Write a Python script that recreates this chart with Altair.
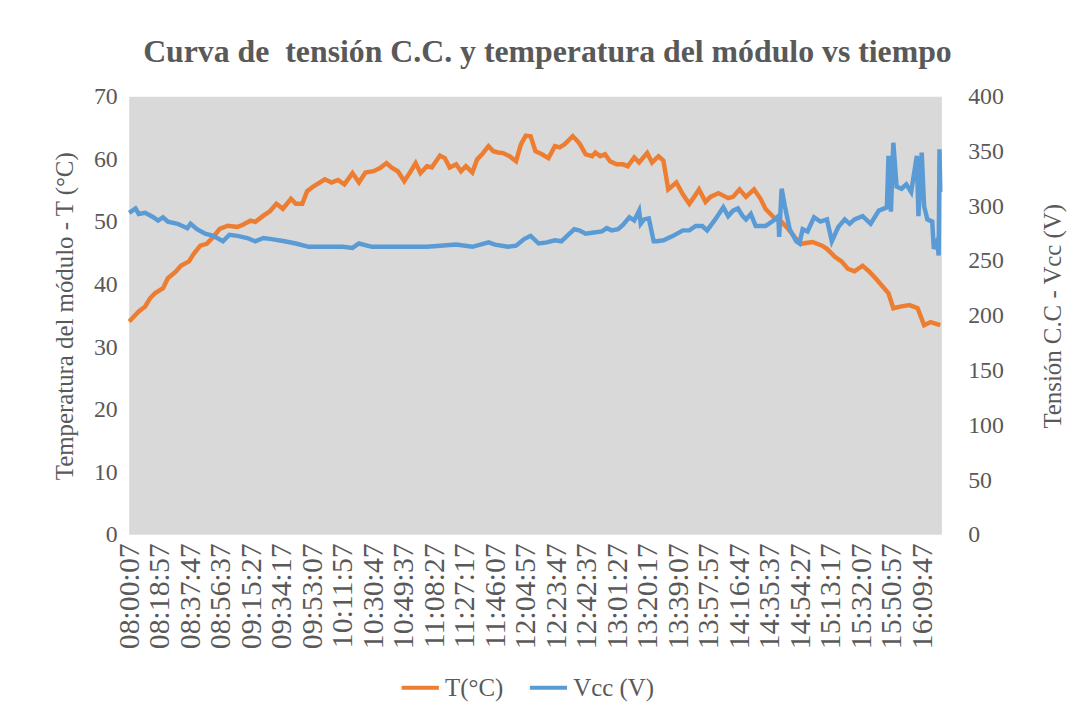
import altair as alt
import pandas as pd

# Temperature series (time, °C)
t_times = ["08:00:07","08:06:00","08:10:00","08:13:00","08:16:00","08:21:00","08:24:00","08:29:00","08:32:00","08:37:00",
           "08:40:00","08:44:00","08:48:00","08:52:00","08:56:00","09:01:00","09:07:00","09:10:00","09:15:00","09:18:00",
           "09:23:00","09:27:00","09:31:00","09:35:00","09:40:00","09:43:00","09:47:00","09:50:00","09:54:00","10:01:00",
           "10:05:00","10:09:00","10:13:00","10:18:00","10:22:00","10:26:00","10:31:00","10:35:00","10:39:00","10:42:00",
           "10:46:00","10:50:00","10:54:00","10:57:00","11:00:00","11:04:00","11:07:00","11:12:00","11:15:00","11:18:00",
           "11:22:00","11:25:00","11:28:00","11:32:00","11:35:00","11:38:00","11:42:00","11:45:00","11:48:00","11:51:00",
           "11:55:00","11:59:00","12:02:00","12:05:00","12:08:00","12:11:00","12:15:00","12:19:00","12:23:00","12:26:00",
           "12:29:00","12:34:00","12:37:00","12:38:30","12:42:00","12:46:00","12:48:00","12:51:00","12:54:00","12:57:00",
           "13:01:00","13:05:00","13:08:00","13:12:00","13:15:00","13:20:00","13:23:00","13:27:00","13:30:00","13:33:00",
           "13:38:00","13:42:00","13:46:00","13:49:00","13:52:00","13:56:00","13:59:00","14:04:00","14:10:00","14:13:00",
           "14:17:00","14:21:00","14:26:00","14:30:00","14:33:00","14:36:00","14:39:00","14:43:00","14:47:00","14:52:00",
           "14:55:00","15:02:00","15:08:00","15:11:00","15:16:00","15:20:00","15:24:00","15:28:00","15:33:00","15:37:00",
           "15:41:00","15:45:00","15:49:00","15:52:00","15:57:00","16:02:00","16:07:00","16:11:00","16:15:00","16:21:00"]
t_vals = [34.1,35.7,36.5,37.8,38.6,39.4,41.0,42.1,43.0,43.7,
          44.9,46.2,46.5,47.6,48.9,49.4,49.2,49.5,50.2,50.0,
          51.0,51.7,52.9,52.1,53.7,52.9,52.9,54.9,55.7,56.8,
          56.3,56.7,56.0,57.8,56.3,57.9,58.1,58.6,59.4,58.7,
          58.1,56.5,58.1,59.4,57.8,58.9,58.7,60.6,60.2,58.7,
          59.2,58.1,58.9,57.9,60.0,60.8,62.1,61.3,61.1,61.0,
          60.5,59.7,62.4,63.8,63.7,61.3,60.8,60.2,62.1,61.9,
          62.4,63.7,62.9,62.4,60.8,60.5,61.1,60.5,60.8,59.7,
          59.2,59.2,58.9,60.3,59.5,61.0,59.5,60.5,59.8,55.2,
          56.3,54.4,52.9,54.0,55.2,53.2,54.0,54.6,53.8,54.0,
          55.2,54.0,55.2,53.7,52.1,51.3,50.5,50.0,48.9,47.3,
          46.5,46.8,46.2,45.7,44.4,43.7,42.5,42.1,43.0,42.1,
          41.0,39.8,38.6,36.2,36.5,36.7,36.2,33.5,34.0,33.5]

# Voltage series (time, V)
v_times = ["08:00:07","08:04:00","08:06:00","08:10:00","08:15:00","08:18:00","08:21:00","08:24:00","08:30:00","08:36:00",
           "08:38:00","08:42:00","08:47:00","08:52:00","08:58:00","09:02:00","09:07:00","09:13:00","09:18:00","09:23:00",
           "09:28:00","09:36:00","09:43:00","09:51:00","10:02:00","10:12:00","10:18:00","10:22:00","10:30:00","10:39:00",
           "10:46:00","11:04:00","11:22:00","11:32:00","11:42:00","11:46:00","11:54:00","11:59:00","12:04:00","12:08:00",
           "12:13:00","12:18:00","12:23:00","12:27:00","12:32:00","12:35:00","12:38:00","12:42:00","12:47:00","12:52:00",
           "12:55:00","12:58:00","13:02:00","13:05:00","13:09:00","13:12:00","13:15:00","13:16:00","13:18:00","13:21:00",
           "13:24:00","13:26:00","13:30:00","13:36:00","13:42:00","13:46:00","13:50:00","13:54:00","13:57:00","14:02:00",
           "14:07:00","14:10:00","14:13:00","14:16:00","14:19:00","14:21:00","14:24:00","14:27:00","14:33:00","14:38:00",
           "14:41:00","14:41:30","14:43:00","14:45:00","14:48:00","14:52:00","14:54:00","14:56:00","14:59:00","15:03:00",
           "15:07:00","15:11:00","15:14:00","15:18:00","15:22:00","15:25:00","15:28:00","15:33:00","15:38:00","15:43:00",
           "15:48:00","15:49:00","15:50:30","15:52:00","15:54:00","15:57:00","16:00:00","16:03:00","16:06:30","16:07:30",
           "16:09:30","16:11:00","16:13:00","16:16:00","16:17:00","16:19:00","16:20:00","16:20:30","16:21:00"]
v_vals = [294,298,293,294,290,287,290,286,284,280,
          284,279,275,273,268,274,273,271,268,271,
          270,268,266,263,263,263,262,266,263,263,
          263,263,265,263,267,265,263,264,270,273,
          266,267,269,268,275,279,278,275,276,277,
          280,278,279,283,290,287,296,284,288,289,
          268,268,269,273,278,278,282,282,278,288,
          299,291,296,298,291,288,293,282,282,287,
          291,272,316,300,279,268,266,279,277,290,
          286,288,268,281,288,284,288,291,284,296,
          299,346,295,358,318,316,320,313,346,291,
          349,300,288,286,261,268,255,352,313]

tick_times = ["08:00:07","08:18:57","08:37:47","08:56:37","09:15:27","09:34:17","09:53:07","10:11:57","10:30:47",
              "10:49:37","11:08:27","11:27:17","11:46:07","12:04:57","12:23:47","12:42:37","13:01:27","13:20:17",
              "13:39:07","13:57:57","14:16:47","14:35:37","14:54:27","15:13:17","15:32:07","15:50:57","16:09:47"]

SERIES = ["T(°C)", "Vcc (V)"]
COLORS = ["#ED7D31", "#5B9BD5"]
FONT = "Liberation Serif"
GREY = "#595959"


def secs(s):
    h, m, x = s.split(":")
    return int(h) * 3600 + int(m) * 60 + int(x)


df_t = pd.DataFrame({"s": [secs(x) for x in t_times], "val": t_vals, "serie": SERIES[0]})
df_v = pd.DataFrame({"s": [secs(x) for x in v_times], "val": v_vals, "serie": SERIES[1]})
ticks = [secs(x) for x in tick_times]

xenc = alt.X(
    "s:Q",
    scale=alt.Scale(domain=[secs("08:00:07"), secs("16:21:57")], nice=False, zero=False),
    axis=alt.Axis(
        values=ticks, labelExpr="utcFormat(datum.value*1000, '%H:%M:%S')", labelAngle=270,
        labelFontSize=30, labelFont=FONT, labelColor=GREY, labelOverlap=False, labelFlush=False,
        labelPadding=8, ticks=False, domain=False, grid=False, title=None,
    ),
)

color = alt.Color(
    "serie:N",
    scale=alt.Scale(domain=SERIES, range=COLORS),
    legend=alt.Legend(
        title=None, orient="none", direction="horizontal", legendX=272, legendY=574,
        symbolType="stroke", symbolStrokeWidth=4, symbolSize=1400, labelFontSize=25,
        labelFont=FONT, labelColor=GREY, columnPadding=18, labelOffset=4,
    ),
)

t_line = alt.Chart(df_t).mark_line(strokeWidth=4.5).encode(
    x=xenc,
    y=alt.Y(
        "val:Q",
        scale=alt.Scale(domain=[0, 70], nice=False),
        axis=alt.Axis(
            values=list(range(0, 71, 10)), title="Temperatura del módulo - T (°C)", titleFontSize=25,
            titleFont=FONT, titleColor=GREY, titleFontWeight="normal", titlePadding=16,
            labelFontSize=24, labelFont=FONT, labelColor=GREY, labelPadding=12,
            ticks=False, domain=False, grid=False,
        ),
    ),
    color=color,
)

v_line = alt.Chart(df_v).mark_line(strokeWidth=4.5).encode(
    x=xenc,
    y=alt.Y(
        "val:Q",
        scale=alt.Scale(domain=[0, 400], nice=False),
        axis=alt.Axis(
            orient="right", values=list(range(0, 401, 50)), title="Tensión C.C - Vcc (V)", titleFontSize=25,
            titleFont=FONT, titleColor=GREY, titleFontWeight="normal", titlePadding=62, titleAngle=270,
            labelFontSize=24, labelFont=FONT, labelColor=GREY, labelPadding=26,
            ticks=False, domain=False, grid=False,
        ),
    ),
    color=color,
)

chart = (
    alt.layer(t_line, v_line)
    .resolve_scale(y="independent")
    .properties(
        width=818,
        height=441,
        background="white",
        title=alt.Title(
            "Curva de \u00a0tensión C.C. y temperatura del módulo vs tiempo",
            font=FONT, fontSize=32, fontWeight="bold", color=GREY, offset=16, dx=12,
        ),
        padding={"left": 45, "top": 26, "right": 6, "bottom": 10},
    )
    .configure_view(fill="#D9D9D9", stroke=None)
)

chart.save("out.html", embed_options={"renderer": "svg", "actions": False})
